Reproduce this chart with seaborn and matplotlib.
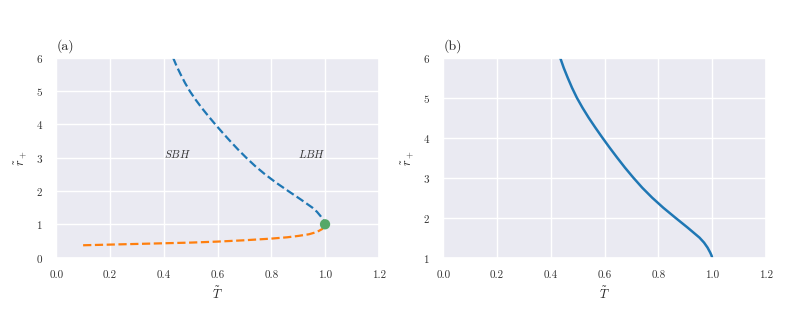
import numpy as np
import pandas as pd
import seaborn as sns
import matplotlib.pyplot as plt

# large black hole branch
r_large = [6.0, 5.75, 5.5, 5.25, 5.0, 4.75, 4.5, 4.25, 4.0, 3.75, 3.5, 3.25, 3.0,
           2.75, 2.5, 2.25, 2.0, 1.75, 1.5, 1.375, 1.25, 1.125, 1.05, 1.0]
T_large = [0.435, 0.448, 0.463, 0.479, 0.497, 0.518, 0.541, 0.566, 0.592, 0.619, 0.647, 0.676, 0.707,
           0.740, 0.777, 0.818, 0.863, 0.909, 0.953, 0.970, 0.983, 0.993, 0.998, 1.0]

# small black hole branch
T_small = [0.1, 0.2, 0.3, 0.4, 0.5, 0.6, 0.7, 0.8, 0.86, 0.9, 0.94, 0.97, 0.99, 1.0]
r_small = [0.37, 0.39, 0.41, 0.43, 0.45, 0.48, 0.52, 0.57, 0.61, 0.65, 0.70, 0.77, 0.86, 1.0]

# critical point
T_crit = [1.0]
r_crit = [1.0]

sns.set_theme(style="darkgrid")
plt.rcParams['font.family'] = 'serif'
plt.rcParams['font.serif'] = ['cmr10']
plt.rcParams['mathtext.fontset'] = 'cm'
plt.rcParams['axes.formatter.use_mathtext'] = True
plt.rcParams['axes.unicode_minus'] = False

df_large = pd.DataFrame({'T': T_large, 'r': r_large})
df_small = pd.DataFrame({'T': T_small, 'r': r_small})

fig, (ax1, ax2) = plt.subplots(1, 2, figsize=(7.92, 3.18), dpi=100)
fig.subplots_adjust(left=0.071, right=0.967, bottom=0.19, top=0.818, wspace=0.2)

# --- panel (a) ---
sns.lineplot(data=df_large, x='T', y='r', ax=ax1, color='#1f77b4', linestyle='--', linewidth=1.6, sort=False)
sns.lineplot(data=df_small, x='T', y='r', ax=ax1, color='#ff7f0e', linestyle='--', linewidth=1.6, sort=False)
sns.scatterplot(x=T_crit, y=r_crit, ax=ax1, color='#55a868', s=55, edgecolor='none', zorder=5)
ax1.text(0.4, 3.0, r'$SBH$', fontsize=8, color='#333333')
ax1.text(0.9, 3.0, r'$LBH$', fontsize=8, color='#333333')
ax1.set_xlim(0, 1.2)
ax1.set_ylim(0, 6)
ax1.set_title('(a)', loc='left', fontsize=10)

# --- panel (b) ---
sns.lineplot(data=df_large, x='T', y='r', ax=ax2, color='#1f77b4', linewidth=1.8, sort=False)
ax2.set_xlim(0, 1.2)
ax2.set_ylim(1, 6)
ax2.set_title('(b)', loc='left', fontsize=10)

for ax in (ax1, ax2):
    ax.set_xlabel(r'$\tilde{T}$', fontsize=9)
    ax.set_ylabel(r'$\tilde{r}_+$', fontsize=9)
    ax.set_xticks([0.0, 0.2, 0.4, 0.6, 0.8, 1.0, 1.2])
    ax.set_xticklabels(['0.0', '0.2', '0.4', '0.6', '0.8', '1.0', '1.2'])
    ax.tick_params(labelsize=8, colors='#333333')

plt.savefig('out.png', dpi=100)
